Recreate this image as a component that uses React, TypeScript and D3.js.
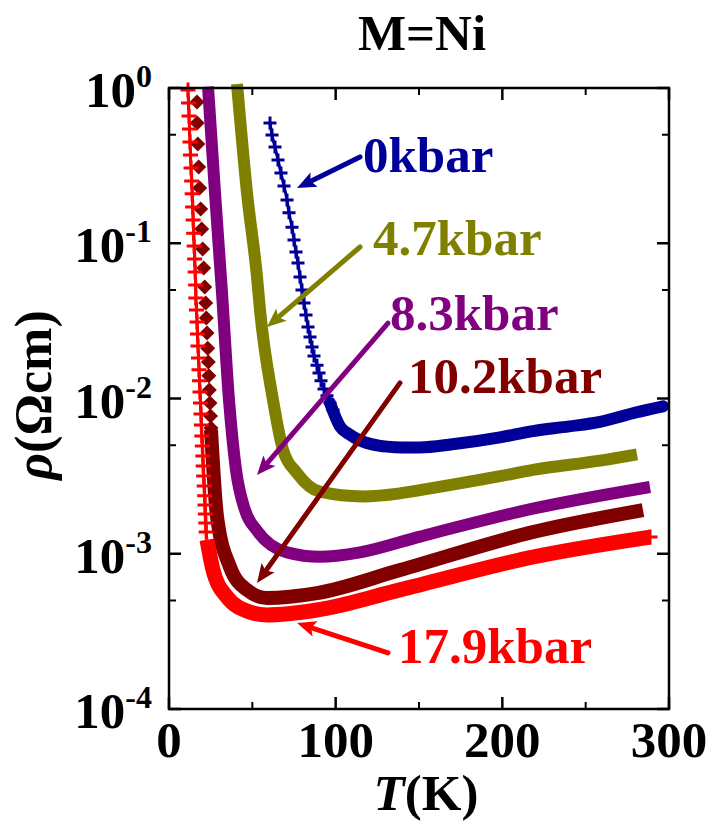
import React from 'react';
import * as d3 from 'd3';

type Pt = [number, number]; // [T (K), rho (Ohm cm)]

// 0 kbar (blue): sparse "+" points at low T, then dense band
const p0Markers: Pt[] = [
  [60.6, 0.595], [61.8, 0.498], [63.6, 0.417], [65.4, 0.344], [67.2, 0.283], [69.0, 0.234],
  [70.8, 0.190], [72.0, 0.157], [73.8, 0.127], [75.0, 0.105], [76.2, 0.0879], [77.4, 0.0746],
  [78.6, 0.0607], [79.8, 0.0500], [81.0, 0.0412], [82.2, 0.0345], [83.4, 0.0289], [84.6, 0.0249],
  [85.8, 0.0215], [87.0, 0.0188], [88.8, 0.0164], [90.0, 0.0146], [91.2, 0.0130], [93.0, 0.0115],
  [94.8, 0.0104], [96.6, 0.00935], [98.4, 0.00843],
];
const p0Line: Pt[] = [
  [96.6, 0.00935], [102.6, 0.00661], [108, 0.00589], [114.6, 0.00537],
  [122, 0.00507], [130.8, 0.0049], [140, 0.00484], [150.6, 0.00484], [170, 0.00507],
  [198.6, 0.00562], [218.4, 0.00617], [240, 0.00661], [258.6, 0.00708], [280, 0.00813], [296.4, 0.00891],
];

// 4.7 kbar (olive)
const p47Line: Pt[] = [
  [40.8, 1.06], [46.8, 0.211], [52.8, 0.0607], [54.6, 0.0372], [62.4, 0.00977], [68.4, 0.00468],
  [76.8, 0.00331], [90.6, 0.00251], [116.4, 0.00234], [138.6, 0.00245], [150.6, 0.00257],
  [198.6, 0.00316], [218.4, 0.00347], [258.6, 0.00398], [280.8, 0.00437],
];

// 8.3 kbar (purple)
const p83Line: Pt[] = [
  [23.4, 1.02], [27.6, 0.211], [31.8, 0.0479], [36, 0.00977], [40.2, 0.00347], [45.6, 0.00191],
  [52.8, 0.00141], [70.8, 0.00102], [90.6, 0.000955], [114.6, 0.00102], [150.6, 0.00129],
  [218.4, 0.00195], [288.6, 0.00269],
];

// 10.2 kbar (dark red): diamonds at low T, then dense band
const p102Markers: Pt[] = [
  [16.8, 0.812], [16.9, 0.595], [17.3, 0.436], [17.8, 0.310], [18.4, 0.227], [19.0, 0.166],
  [19.6, 0.1235], [20.2, 0.0918], [20.8, 0.0693], [21.4, 0.0523], [22.0, 0.0412], [22.4, 0.0330],
  [22.8, 0.0264], [23.2, 0.0211], [23.6, 0.0172], [23.9, 0.0140], [24.2, 0.01135], [24.6, 0.00935],
  [24.9, 0.00772], [25.2, 0.00646],
];
const p102Line: Pt[] = [
  [25.2, 0.00627], [28.8, 0.00174], [36.6, 0.000822], [46.8, 0.000585], [58.8, 0.000519],
  [88.8, 0.000558], [138.6, 0.000785], [218.4, 0.00138], [284.4, 0.00191],
];

// 17.9 kbar (red): "+" points at low T, then dense band
const p179Markers: Pt[] = [
  [11.4, 0.971], [11.7, 0.800], [12.0, 0.660], [12.3, 0.544], [12.6, 0.449], [12.9, 0.370],
  [13.2, 0.305], [13.6, 0.252], [13.9, 0.208], [14.2, 0.171], [14.5, 0.141], [14.8, 0.116],
  [15.1, 0.0960], [15.4, 0.0792], [15.7, 0.0653], [16.0, 0.0538], [16.1, 0.0444], [16.5, 0.0372],
  [16.8, 0.0311], [17.1, 0.0260], [17.4, 0.0218], [17.7, 0.0182], [18.0, 0.0153], [18.3, 0.0130],
  [18.6, 0.0110], [18.9, 0.00935], [19.2, 0.00794], [19.4, 0.00675], [19.7, 0.00574], [20.0, 0.00494],
  [20.3, 0.00426], [20.5, 0.00367], [20.8, 0.00317], [21.1, 0.00273], [21.4, 0.00236], [21.6, 0.00206],
  [21.8, 0.00180], [22.1, 0.00158], [22.3, 0.00138],
];
const p179Line: Pt[] = [
  [22.8, 0.00123], [26.4, 0.000786], [34.8, 0.000527], [48.6, 0.000421], [58.8, 0.000403],
  [88.8, 0.000434], [138.6, 0.000585], [218.4, 0.000953], [288.6, 0.00128],
];

const xTicks = [0, 100, 200, 300];
const xMinor = [50, 150, 250];
const yTicks = [1, 1e-1, 1e-2, 1e-3, 1e-4];
const yExp = ['0', '-1', '-2', '-3', '-4'];
const yMinor = [0.5, 0.05, 0.005, 0.0005];

const pressures = ['0kbar', '4.7kbar', '8.3kbar', '10.2kbar', '17.9kbar'];
const colors = ['#000099', '#808000', '#800080', '#800000', '#ff0000'];
// annotation anchors in data space: label start, arrow tail, arrow tip
const labelAt: Pt[] = [[116.4, 0.288], [122.4, 0.084], [132.6, 0.0276], [143.4, 0.01084], [137.4, 0.000198]];
const arrowTail: Pt[] = [[114.6, 0.36], [114.6, 0.0946], [131.4, 0.0306], [138.6, 0.0126], [131.4, 0.00023]];
const arrowTip: Pt[] = [[76.8, 0.227], [58.8, 0.0289], [52.8, 0.00321], [52.8, 0.000648], [76.8, 0.000358]];

const FONT = "Liberation Serif, DejaVu Serif, Times New Roman, serif";

export default function App() {
  const x = d3.scaleLinear().domain([0, 300]).range([169, 669]);
  const y = d3.scaleLog().domain([1e-4, 1]).range([709, 88]);
  const line = d3.line<Pt>().x(d => x(d[0])).y(d => y(d[1])).curve(d3.curveMonotoneX);

  const plus = (s: number) => `M${-s},0H${s}M0,${-s}V${s}`;
  const diamond = (s: number) => `M0,${-s}L${s},0L0,${s}L${-s},0Z`;

  const [x0, x1] = x.range();
  const [y0, y1] = y.range();

  const arrow = (i: number) => {
    const tx = x(arrowTail[i][0]), ty = y(arrowTail[i][1]);
    const hx = x(arrowTip[i][0]), hy = y(arrowTip[i][1]);
    const a = Math.atan2(hy - ty, hx - tx);
    const L = 19, hw = 8;
    const bx = hx - L * Math.cos(a), by = hy - L * Math.sin(a);
    const px = -Math.sin(a) * hw, py = Math.cos(a) * hw;
    return (
      <g key={'a' + i}>
        <line x1={tx} y1={ty} x2={bx + 2 * Math.cos(a)} y2={by + 2 * Math.sin(a)} stroke={colors[i]} strokeWidth={5} strokeLinecap="round" />
        <path d={`M${hx},${hy}L${bx + px},${by + py}L${bx + 4 * Math.cos(a)},${by + 4 * Math.sin(a)}L${bx - px},${by - py}Z`} fill={colors[i]} />
      </g>
    );
  };

  return (
    <svg width={712} height={825} style={{ position: 'absolute', left: 0, top: 0, background: '#fff' }}>
      <g fontFamily={FONT} fontWeight="bold">
      {/* data */}
      <path d={line(p47Line) || ''} fill="none" stroke={colors[1]} strokeWidth={12} strokeLinejoin="round" />
      <path d={line(p83Line) || ''} fill="none" stroke={colors[2]} strokeWidth={12} strokeLinejoin="round" />
      <path d={line(p0Markers) || ''} fill="none" stroke={colors[0]} strokeWidth={3} />
      {p0Markers.map((d, i) => (
        <path key={'m0' + i} d={plus(6.5)} transform={`translate(${x(d[0])},${y(d[1])})`} stroke={colors[0]} strokeWidth={3} />
      ))}
      <path d={line(p0Line) || ''} fill="none" stroke={colors[0]} strokeWidth={12} strokeLinejoin="round" strokeLinecap="round" />
      {p102Markers.map((d, i) => (
        <path key={'m1' + i} d={diamond(7.5)} transform={`translate(${x(d[0])},${y(d[1])})`} fill={colors[3]} />
      ))}
      <path d={line(p102Line) || ''} fill="none" stroke={colors[3]} strokeWidth={14} strokeLinejoin="round" />
      <path d={line(p179Markers.concat([p179Line[0]])) || ''} fill="none" stroke={colors[4]} strokeWidth={3} />
      {p179Markers.concat([p179Line[p179Line.length - 1]]).map((d, i) => (
        <path key={'m2' + i} d={plus(7.5)} transform={`translate(${x(d[0])},${y(d[1])})`} stroke={colors[4]} strokeWidth={3} />
      ))}
      <path d={line(p179Line) || ''} fill="none" stroke={colors[4]} strokeWidth={15} strokeLinejoin="round" />

      {/* annotations */}
      {pressures.map((_, i) => arrow(i))}
      {pressures.map((p, i) => (
        <text key={'l' + i} x={x(labelAt[i][0])} y={y(labelAt[i][1])} fill={colors[i]} fontSize={51}>{p}</text>
      ))}

      {/* frame */}
      <rect x={x0} y={y1} width={x1 - x0} height={y0 - y1} fill="none" stroke="#000" strokeWidth={2.5} />
      {xTicks.map(t => (
        <g key={'xt' + t} stroke="#000" strokeWidth={2.5}>
          <line x1={x(t)} x2={x(t)} y1={y0} y2={y0 - 12} />
          <line x1={x(t)} x2={x(t)} y1={y1} y2={y1 + 12} />
        </g>
      ))}
      {xMinor.map(t => (
        <g key={'xm' + t} stroke="#000" strokeWidth={2}>
          <line x1={x(t)} x2={x(t)} y1={y0} y2={y0 - 7} />
          <line x1={x(t)} x2={x(t)} y1={y1} y2={y1 + 7} />
        </g>
      ))}
      {yTicks.map(t => (
        <g key={'yt' + t} stroke="#000" strokeWidth={2.5}>
          <line x1={x0} x2={x0 + 12} y1={y(t)} y2={y(t)} />
          <line x1={x1} x2={x1 - 12} y1={y(t)} y2={y(t)} />
        </g>
      ))}
      {yMinor.map(t => (
        <g key={'ym' + t} stroke="#000" strokeWidth={2}>
          <line x1={x0} x2={x0 + 7} y1={y(t)} y2={y(t)} />
          <line x1={x1} x2={x1 - 7} y1={y(t)} y2={y(t)} />
        </g>
      ))}

      {/* tick labels */}
      {xTicks.map(t => (
        <text key={'xl' + t} x={x(t)} y={y0 + 48} textAnchor="middle" fontSize={51}>{t}</text>
      ))}
      {yTicks.map((t, i) => (
        <text key={'yl' + t} x={x0 - 17} y={y(t) + 19} textAnchor="end" fontSize={51}>
          10<tspan fontSize={32} dy={-20}>{yExp[i]}</tspan>
        </text>
      ))}

      {/* titles */}
      <text x={422} y={50} textAnchor="middle" fontSize={51}>M=Ni</text>
      <text x={426} y={810} textAnchor="middle" fontSize={51}>
        <tspan fontStyle="italic">T</tspan>(K)
      </text>
      <text transform="translate(51,395) rotate(-90)" textAnchor="middle" fontSize={52}>
        <tspan fontStyle="italic">ρ</tspan>(Ωcm)
      </text>
      </g>
    </svg>
  );
}
